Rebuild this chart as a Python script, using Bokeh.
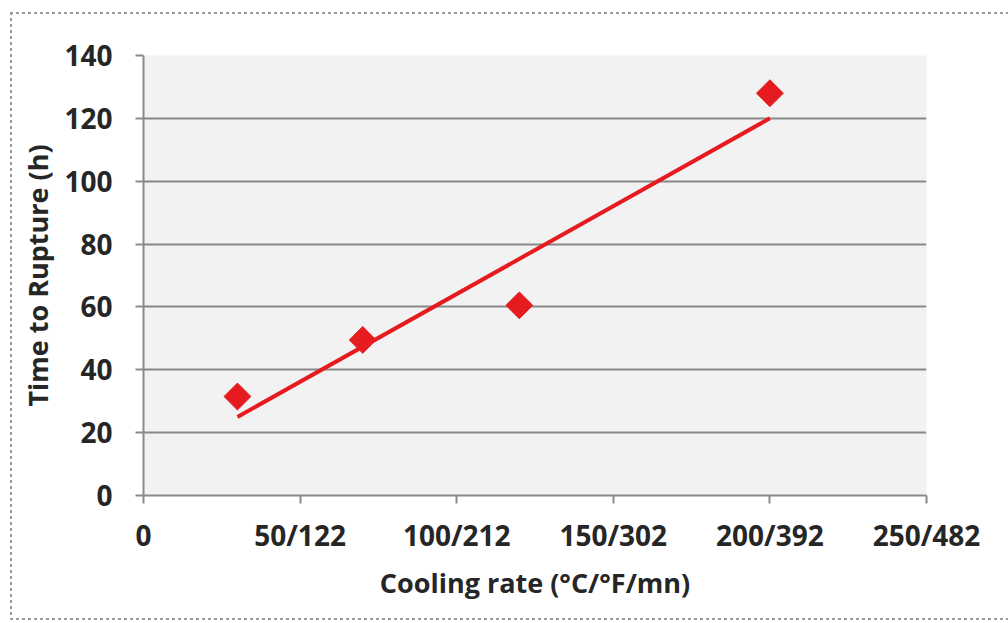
import math
from bokeh.plotting import figure
from bokeh.models import FixedTicker, Range1d, ColumnDataSource
from bokeh.embed import file_html
from bokeh.resources import INLINE

# Data
cooling_rate = [30, 70, 120, 200]
time_to_rupture = [31.5, 49.5, 60.5, 128]
trend_x = [30, 200]
trend_y = [25, 120]
x_tick_vals = [0, 50, 100, 150, 200, 250]
x_tick_labels = ["0", "50/122", "100/212", "150/302", "200/392", "250/482"]
y_tick_vals = [0, 20, 40, 60, 80, 100, 120, 140]

FONT = "Open Sans"
TXT = "#262626"
RED = "#e51b1f"
DASH_H = "repeating-linear-gradient(90deg, #9a9a9a 0 3px, transparent 3px 6px)"
DASH_V = "repeating-linear-gradient(180deg, #9a9a9a 0 3px, transparent 3px 6px)"

p = figure(width=1008, height=621, output_backend="svg", toolbar_location=None,
           x_range=Range1d(0, 250), y_range=Range1d(0, 140),
           min_border_left=143, min_border_right=82, min_border_top=55, min_border_bottom=126)
p.border_fill_alpha = 0
p.background_fill_color = "#f2f2f2"
p.outline_line_color = None
p.styles = {
    "background-color": "#ffffff",
    "background-image": f"{DASH_V}, {DASH_H}, {DASH_H}",
    "background-position": "10px 12px, 10px 12px, 10px 618px",
    "background-size": "2px 608px, 1000px 2px, 1000px 2px",
    "background-repeat": "no-repeat",
}

p.xgrid.grid_line_color = None
p.ygrid.grid_line_color = "#888888"
p.ygrid.grid_line_width = 2
p.ygrid.ticker = FixedTicker(ticks=y_tick_vals)

for ax in (p.xaxis[0], p.yaxis[0]):
    ax.axis_line_color = "#8a8a8a"
    ax.axis_line_width = 2
    ax.major_tick_line_color = "#8a8a8a"
    ax.major_tick_line_width = 2
    ax.major_tick_out = 8
    ax.major_tick_in = 0
    ax.minor_tick_line_color = None
    ax.major_label_text_font = FONT
    ax.major_label_text_font_style = "bold"
    ax.major_label_text_font_size = "28px"
    ax.major_label_text_color = TXT
    ax.axis_label_text_font = FONT
    ax.axis_label_text_font_style = "bold"
    ax.axis_label_text_font_size = "27px"
    ax.axis_label_text_color = TXT

p.xaxis.ticker = FixedTicker(ticks=x_tick_vals)
p.xaxis.major_label_overrides = {v: l for v, l in zip(x_tick_vals, x_tick_labels)}
p.xaxis.major_label_standoff = 12
p.xaxis.axis_label = "Cooling rate (°C/°F/mn)"
p.xaxis.axis_label_standoff = 7

p.yaxis.ticker = FixedTicker(ticks=y_tick_vals)
p.yaxis.major_label_standoff = 23
p.yaxis.axis_label = "Time to Rupture (h)"
p.yaxis.axis_label_standoff = 5

p.line(trend_x, trend_y, line_color=RED, line_width=4)
src = ColumnDataSource(dict(x=cooling_rate, y=time_to_rupture))
p.scatter("x", "y", source=src, marker="square", size=19, angle=math.pi / 4,
          fill_color=RED, line_color=RED)

open("out.html", "w").write(file_html(p, INLINE))
